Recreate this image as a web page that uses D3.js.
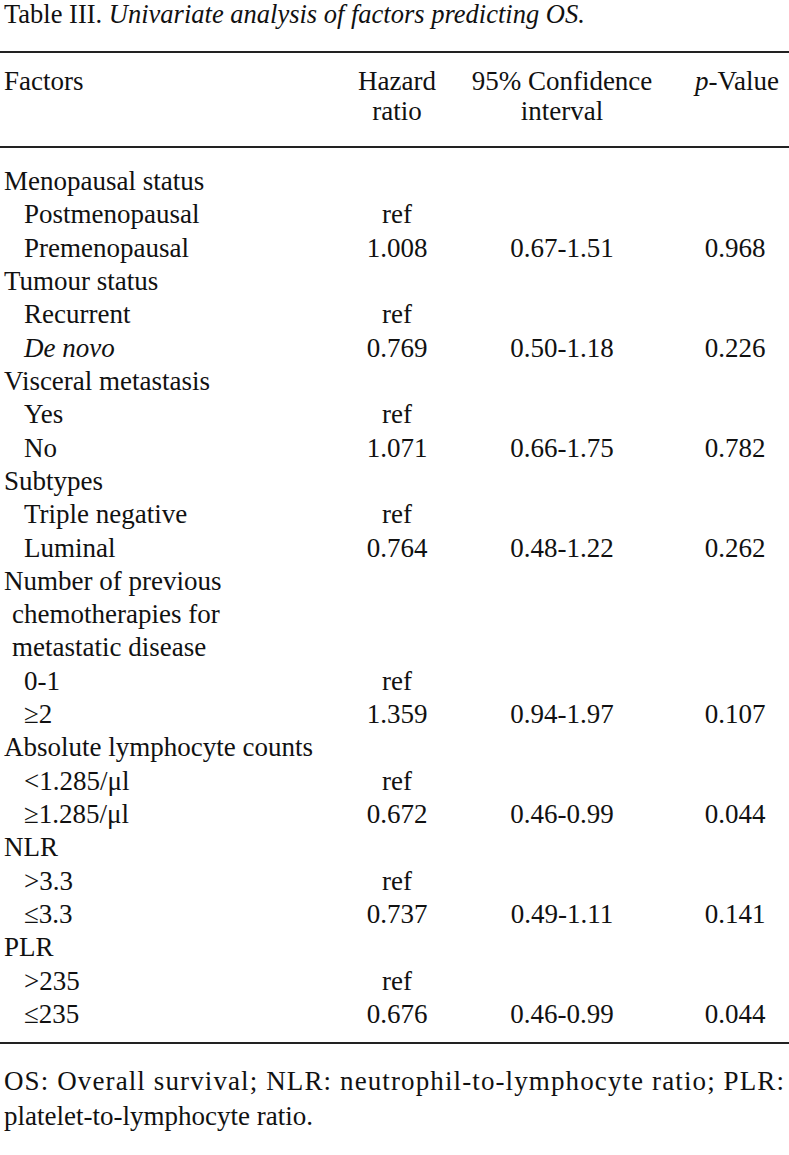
<!DOCTYPE html>
<html>
<head>
<meta charset="utf-8">
<script src="https://cdn.jsdelivr.net/npm/d3@7"></script>
<style>
  body { margin: 0; background: #fff; }
  svg text { font-family: "Liberation Serif", "Times New Roman", serif; fill: #111; }
</style>
</head>
<body>
<div id="table-area"></div>
<script>
// table content
const rowLabels = [
    "Menopausal status", "Postmenopausal", "Premenopausal",
    "Tumour status", "Recurrent", "De novo",
    "Visceral metastasis", "Yes", "No",
    "Subtypes", "Triple negative", "Luminal",
    "Number of previous", "chemotherapies for", "metastatic disease", "0-1", "\u22652",
    "Absolute lymphocyte counts", "<1.285/\u03bcl", "\u22651.285/\u03bcl",
    "NLR", ">3.3", "\u22643.3",
    "PLR", ">235", "\u2264235"
];
// 0 = group heading, 1 = sub item, 2 = wrapped heading line
const rowLevel = [0,1,1, 0,1,1, 0,1,1, 0,1,1, 0,2,2,1,1, 0,1,1, 0,1,1, 0,1,1];
const italicRows = ["De novo"];

const hazardRatios = ["", "ref", "1.008", "", "ref", "0.769", "", "ref", "1.071", "", "ref", "0.764",
    "", "", "", "ref", "1.359", "", "ref", "0.672", "", "ref", "0.737", "", "ref", "0.676"];
const confIntervals = ["", "", "0.67-1.51", "", "", "0.50-1.18", "", "", "0.66-1.75", "", "", "0.48-1.22",
    "", "", "", "", "0.94-1.97", "", "", "0.46-0.99", "", "", "0.49-1.11", "", "", "0.46-0.99"];
const pValues = ["", "", "0.968", "", "", "0.226", "", "", "0.782", "", "", "0.262",
    "", "", "", "", "0.107", "", "", "0.044", "", "", "0.141", "", "", "0.044"];

const footnoteLines = [
    "OS: Overall survival; NLR: neutrophil-to-lymphocyte ratio; PLR:",
    "platelet-to-lymphocyte ratio."
];

const width = 789, height = 1155;
const fontSize = 27;

const svg = d3.select("#table-area").append("svg")
    .attr("width", width)
    .attr("height", height);

// title
const title = svg.append("text")
    .attr("x", 4)
    .attr("y", 23)
    .style("font-size", "26.5px");
title.append("tspan").text("Table III. ");
title.append("tspan").style("font-style", "italic").text("Univariate analysis of factors predicting OS.");

// rules
const rules = [52, 147, 1043];
svg.selectAll(".rule")
    .data(rules)
    .enter()
    .append("line")
    .attr("class", "rule")
    .attr("x1", 0)
    .attr("x2", width)
    .attr("y1", d => d)
    .attr("y2", d => d)
    .attr("stroke", "#222")
    .attr("stroke-width", 2);

// column centres
const colX = {hr: 397, ci: 562, p: 735};

// header
const header = svg.append("g").style("font-size", fontSize + "px");
header.append("text").attr("x", 4).attr("y", 90).text("Factors");
header.append("text").attr("x", colX.hr).attr("y", 90).attr("text-anchor", "middle").text("Hazard");
header.append("text").attr("x", colX.hr).attr("y", 120).attr("text-anchor", "middle").text("ratio");
header.append("text").attr("x", colX.ci).attr("y", 90).attr("text-anchor", "middle").text("95% Confidence");
header.append("text").attr("x", colX.ci).attr("y", 120).attr("text-anchor", "middle").text("interval");
const pHead = header.append("text").attr("x", 779).attr("y", 90).attr("text-anchor", "end");
pHead.append("tspan").style("font-style", "italic").text("p");
pHead.append("tspan").text("-Value");

// rows
const y = d3.scalePoint()
    .domain(d3.range(rowLabels.length))
    .range([190, 1023]);

const indent = [4, 24, 12];

const rows = svg.append("g")
    .style("font-size", fontSize + "px")
    .selectAll(".row")
    .data(rowLabels.map((label, i) => ({
        label: label, level: rowLevel[i], hr: hazardRatios[i], ci: confIntervals[i], p: pValues[i], i: i
    })))
    .enter()
    .append("g")
    .attr("class", "row")
    .attr("transform", d => "translate(0," + y(d.i) + ")");

rows.append("text")
    .attr("x", d => indent[d.level])
    .style("font-style", d => italicRows.includes(d.label) ? "italic" : "normal")
    .text(d => d.label);

rows.append("text")
    .attr("x", colX.hr)
    .attr("text-anchor", "middle")
    .text(d => d.hr);

rows.append("text")
    .attr("x", colX.ci)
    .attr("text-anchor", "middle")
    .text(d => d.ci);

rows.append("text")
    .attr("x", colX.p)
    .attr("text-anchor", "middle")
    .text(d => d.p);

// footnote, first line justified
svg.append("g")
    .style("font-size", fontSize + "px")
    .selectAll(".foot")
    .data(footnoteLines)
    .enter()
    .append("text")
    .attr("class", "foot")
    .attr("x", 4)
    .attr("y", (d, i) => 1090 + i * 35)
    .each(function (d, i) {
        if (i === 0) {
            d3.select(this).attr("textLength", 780).attr("lengthAdjust", "spacing");
        }
    })
    .text(d => d);
</script>
</body>
</html>
